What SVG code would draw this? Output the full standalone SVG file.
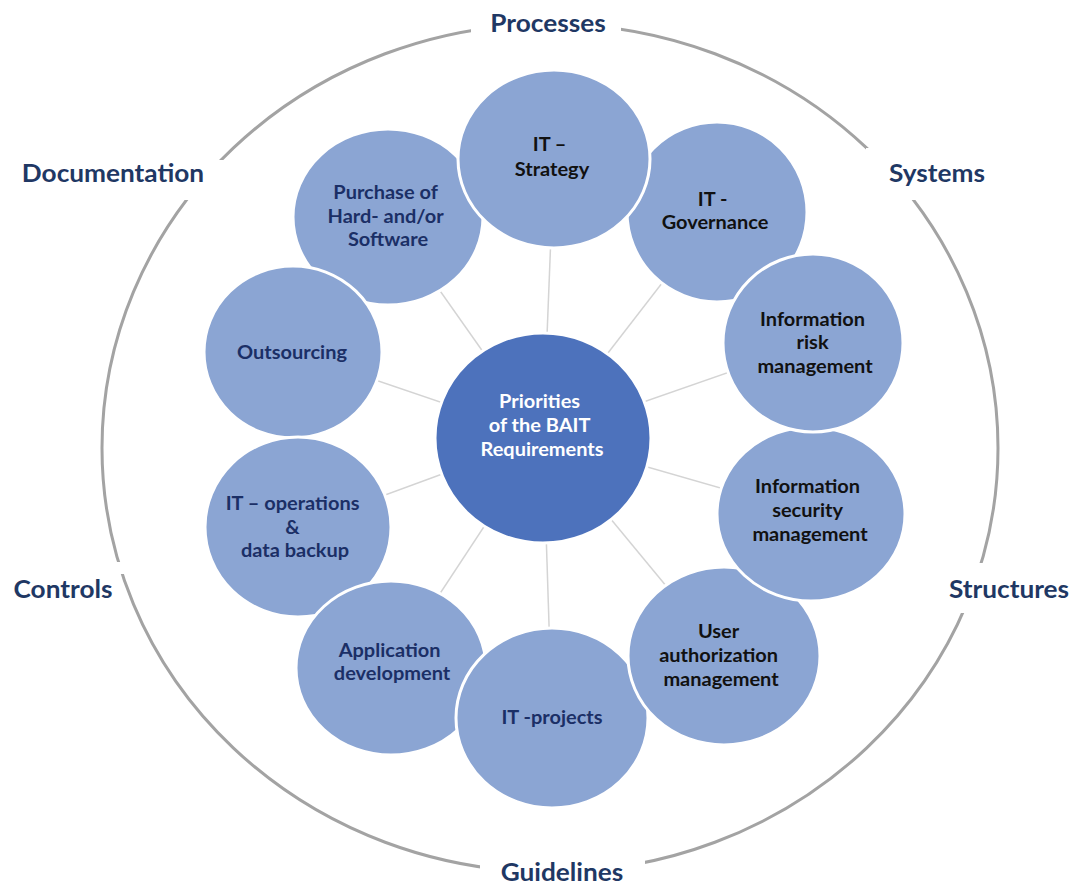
<svg xmlns="http://www.w3.org/2000/svg" width="1076" height="885" viewBox="0 0 1076 885">
  <style>
    .ring { fill: none; stroke: #A3A3A3; stroke-width: 3; }
    .gap { fill: #FFFFFF; }
    .spoke { stroke: #D4D4D4; stroke-width: 1.5; }
    .sat { fill: #8BA5D3; stroke: #FFFFFF; stroke-width: 3; }
    .hub { fill: #4D72BC; stroke: #FFFFFF; stroke-width: 3; }
    .lbl { font-family: Lato, "Open Sans", "DejaVu Sans", sans-serif; font-weight: 700; font-size: 18.5px; text-anchor: middle; }
    .outer { font-family: Lato, "Open Sans", "DejaVu Sans", sans-serif; font-weight: 700; font-size: 24.5px; text-anchor: middle; fill: #1F3864; }
    .dark { fill: #111111; }
    .navy { fill: #1B2F66; }
    .light { fill: #FFFFFF; }
  </style>
  <rect width="1076" height="885" fill="#FFFFFF"/>

  <!-- outer ring with openings for the six dimension labels -->
  <g id="ring">
    <ellipse class="ring" cx="550" cy="448" rx="448" ry="424"/>
    <rect class="gap" x="471" y="6" width="150" height="40"/>
    <rect class="gap" x="8" y="160" width="216" height="40"/>
    <rect class="gap" x="866" y="148" width="140" height="52"/>
    <rect class="gap" x="4" y="562" width="122" height="12"/>
    <rect class="gap" x="940" y="563" width="136" height="50"/>
    <rect class="gap" x="480" y="852" width="165" height="33"/>
  </g>

  <g id="dimension-labels">
    <text id="lbl-processes" class="outer" transform="translate(548,0) scale(1.07,1)" x="0" y="32">Processes</text>
    <text id="lbl-documentation" class="outer" transform="translate(113,0) scale(1.07,1)" x="0" y="182">Documentation</text>
    <text id="lbl-systems" class="outer" transform="translate(937,0) scale(1.07,1)" x="0" y="182">Systems</text>
    <text id="lbl-controls" class="outer" transform="translate(63,0) scale(1.07,1)" x="0" y="598">Controls</text>
    <text id="lbl-structures" class="outer" transform="translate(1009,0) scale(1.07,1)" x="0" y="598">Structures</text>
    <text id="lbl-guidelines" class="outer" transform="translate(562,0) scale(1.07,1)" x="0" y="881">Guidelines</text>
  </g>

  <!-- spokes from the hub to every topic -->
  <g id="connectors">
    <line class="spoke" x1="543" y1="437" x2="554" y2="159"/>
    <line class="spoke" x1="543" y1="437" x2="717" y2="212"/>
    <line class="spoke" x1="543" y1="437" x2="813" y2="343"/>
    <line class="spoke" x1="543" y1="437" x2="811" y2="514"/>
    <line class="spoke" x1="543" y1="437" x2="724" y2="656"/>
    <line class="spoke" x1="543" y1="437" x2="552" y2="718"/>
    <line class="spoke" x1="543" y1="437" x2="391" y2="668"/>
    <line class="spoke" x1="543" y1="437" x2="298" y2="527"/>
    <line class="spoke" x1="543" y1="437" x2="293" y2="352"/>
    <line class="spoke" x1="543" y1="437" x2="388" y2="217"/>
  </g>

  <g id="hub">
    <ellipse class="hub" cx="543" cy="438" rx="108" ry="105"/>
    <text class="lbl light" transform="translate(542,0) scale(1.08,1)">
      <tspan x="0" y="408">Priorities</tspan>
      <tspan x="0" y="432">of the BAIT</tspan>
      <tspan x="0" y="456">Requirements</tspan>
    </text>
  </g>

  <g id="it-governance">
    <ellipse class="sat" cx="717" cy="212" rx="90" ry="90"/>
    <text class="lbl dark" transform="translate(715,0) scale(1.08,1)">
      <tspan x="0" y="206">IT -</tspan>
      <tspan x="0" y="229">Governance</tspan>
    </text>
  </g>

  <g id="purchase">
    <ellipse class="sat" cx="388" cy="217" rx="95" ry="88"/>
    <text class="lbl navy" transform="translate(388,0) scale(1.08,1)">
      <tspan x="0" y="199">Purchase of</tspan>
      <tspan x="0" y="223">Hard- and/or</tspan>
      <tspan x="0" y="246">Software</tspan>
    </text>
  </g>

  <g id="outsourcing">
    <ellipse class="sat" cx="293" cy="352" rx="89" ry="86"/>
    <text class="lbl navy" transform="translate(292,0) scale(1.08,1)" x="0" y="359">Outsourcing</text>
  </g>

  <g id="it-operations">
    <ellipse class="sat" cx="298" cy="527" rx="93" ry="90"/>
    <text class="lbl navy" transform="translate(295,0) scale(1.08,1)">
      <tspan x="0" y="510">IT – operations</tspan>
      <tspan x="0" y="534">&amp;</tspan>
      <tspan x="0" y="557">data backup</tspan>
    </text>
  </g>

  <g id="application-development">
    <ellipse class="sat" cx="391" cy="668" rx="95" ry="87"/>
    <text class="lbl navy" transform="translate(392,0) scale(1.08,1)">
      <tspan x="0" y="657">Application</tspan>
      <tspan x="0" y="680">development</tspan>
    </text>
  </g>

  <g id="it-projects">
    <ellipse class="sat" cx="552" cy="718" rx="96" ry="90"/>
    <text class="lbl navy" transform="translate(552,0) scale(1.08,1)" x="0" y="724">IT -projects</text>
  </g>

  <g id="user-authorization">
    <ellipse class="sat" cx="724" cy="656" rx="96" ry="89"/>
    <text class="lbl dark" transform="translate(721,0) scale(1.08,1)">
      <tspan x="0" y="638">User</tspan>
      <tspan x="0" y="662">authorization</tspan>
      <tspan x="0" y="686">management</tspan>
    </text>
  </g>

  <g id="information-security">
    <ellipse class="sat" cx="811" cy="514" rx="94" ry="87"/>
    <text class="lbl dark" transform="translate(810,0) scale(1.08,1)">
      <tspan x="0" y="493">Information</tspan>
      <tspan x="0" y="517">security</tspan>
      <tspan x="0" y="541">management</tspan>
    </text>
  </g>

  <g id="information-risk">
    <ellipse class="sat" cx="813" cy="343" rx="90" ry="89"/>
    <text class="lbl dark" transform="translate(815,0) scale(1.08,1)">
      <tspan x="0" y="326">Information</tspan>
      <tspan x="0" y="349">risk</tspan>
      <tspan x="0" y="373">management</tspan>
    </text>
  </g>

  <g id="it-strategy">
    <ellipse class="sat" cx="554" cy="159" rx="96" ry="89"/>
    <text class="lbl dark" transform="translate(552,0) scale(1.08,1)">
      <tspan x="0" y="151">IT –</tspan>
      <tspan x="0" y="176">Strategy</tspan>
    </text>
  </g>
</svg>
